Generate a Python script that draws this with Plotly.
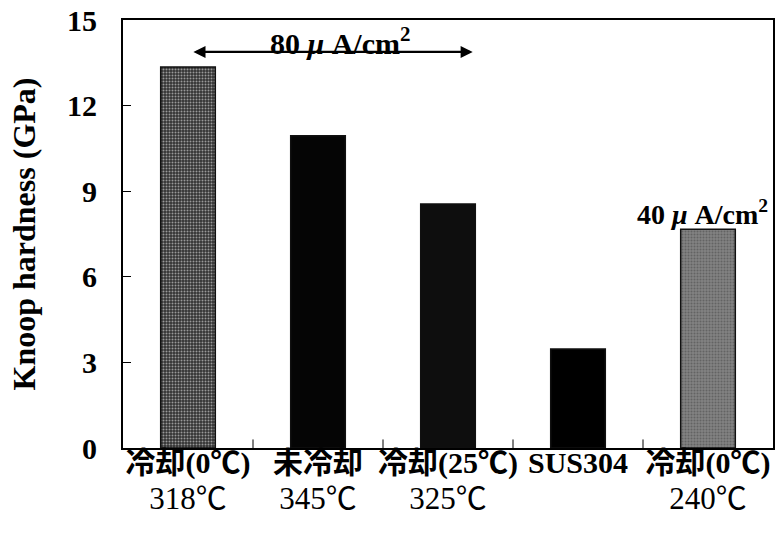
import plotly.graph_objects as go

cat_line1 = ["冷却(0℃)", "未冷却", "冷却(25℃)", "SUS304", "冷却(0℃)"]
cat_line2 = ["318℃", "345℃", "325℃", " ", "240℃"]
hardness = [13.35, 10.94, 8.55, 3.47, 7.67]
bar_colors = ["#333333", "#050505", "#0e0e0e", "#000000", "#828282"]
speckle = ["#5e5e5e", "#050505", "#0e0e0e", "#000000", "#5a5a5a"]
y_ticks = [0, 3, 6, 9, 12, 15]

serif = "Liberation Serif, Times New Roman, serif"
cjk = "Liberation Serif, Noto Sans CJK JP, serif"

ticktext = [f"<b><span style='font-size:30px'>{a}</span></b><br>"
            f"<span style='font-size:31px'>{b}</span>"
            for a, b in zip(cat_line1, cat_line2)]

fig = go.Figure()
fig.add_trace(go.Bar(
    x=list(range(len(cat_line1))),
    y=hardness,
    width=0.42,
    marker=dict(color=bar_colors, line=dict(color="#111111", width=1.5),
                pattern=dict(shape=[".", "", "", "", "."],
                             bgcolor=bar_colors, fgcolor=speckle,
                             size=3, solidity=0.35)),
    showlegend=False,
))

fig.add_annotation(x=2.19, y=13.88, ax=0.03, ay=13.88, xref="x", yref="y",
                   axref="x", ayref="y", text="", showarrow=True,
                   arrowhead=2, arrowside="end+start", arrowsize=1.1,
                   arrowwidth=2.2, arrowcolor="black")
fig.add_annotation(x=1.17, y=14.25, xref="x", yref="y", showarrow=False,
                   text="<b>80 <i>μ</i> A/cm<sup>2</sup></b>",
                   font=dict(family=serif, size=30, color="black"))
fig.add_annotation(x=3.96, y=8.25, xref="x", yref="y", showarrow=False,
                   text="<b>40 <i>μ</i> A/cm<sup>2</sup></b>",
                   font=dict(family=serif, size=28, color="black"))

fig.update_layout(
    width=782, height=543,
    margin=dict(l=123, r=9, t=20, b=95),
    paper_bgcolor="white", plot_bgcolor="white",
    xaxis=dict(
        range=[-0.5, 4.5],
        tickmode="array",
        tickvals=list(range(len(cat_line1))),
        ticktext=ticktext,
        automargin=False,
        ticklabeloverflow="allow",
        ticklabelstandoff=-9,
        ticks="", showline=True, linecolor="black", linewidth=2, mirror=True,
        tickfont=dict(family=cjk, size=27, color="black"),
        showgrid=False, zeroline=False,
    ),
    yaxis=dict(
        range=[0, 15],
        tickvals=y_ticks,
        ticktext=[f"<b>{v}</b>" for v in y_ticks],
        automargin=False,
        ticklabeloverflow="allow",
        ticks="inside", ticklen=8, tickcolor="black",
        showline=True, linecolor="black", linewidth=2, mirror=True,
        tickfont=dict(family=serif, size=30, color="black"),
        ticklabelstandoff=18,
        title=dict(text="<b>Knoop hardness (GPa)</b>", standoff=22,
                   font=dict(family=serif, size=32, color="black")),
        showgrid=False, zeroline=False,
    ),
)

# boundary ticks on x axis (inside)
for b in [0.5, 1.5, 2.5, 3.5]:
    fig.add_shape(type="line", xref="x", yref="paper", x0=b, x1=b, y0=0, y1=0.02,
                  line=dict(color="black", width=1))

fig.write_html("out.html", config={"displayModeBar": False},
               post_script="document.body.style.margin='0';")
